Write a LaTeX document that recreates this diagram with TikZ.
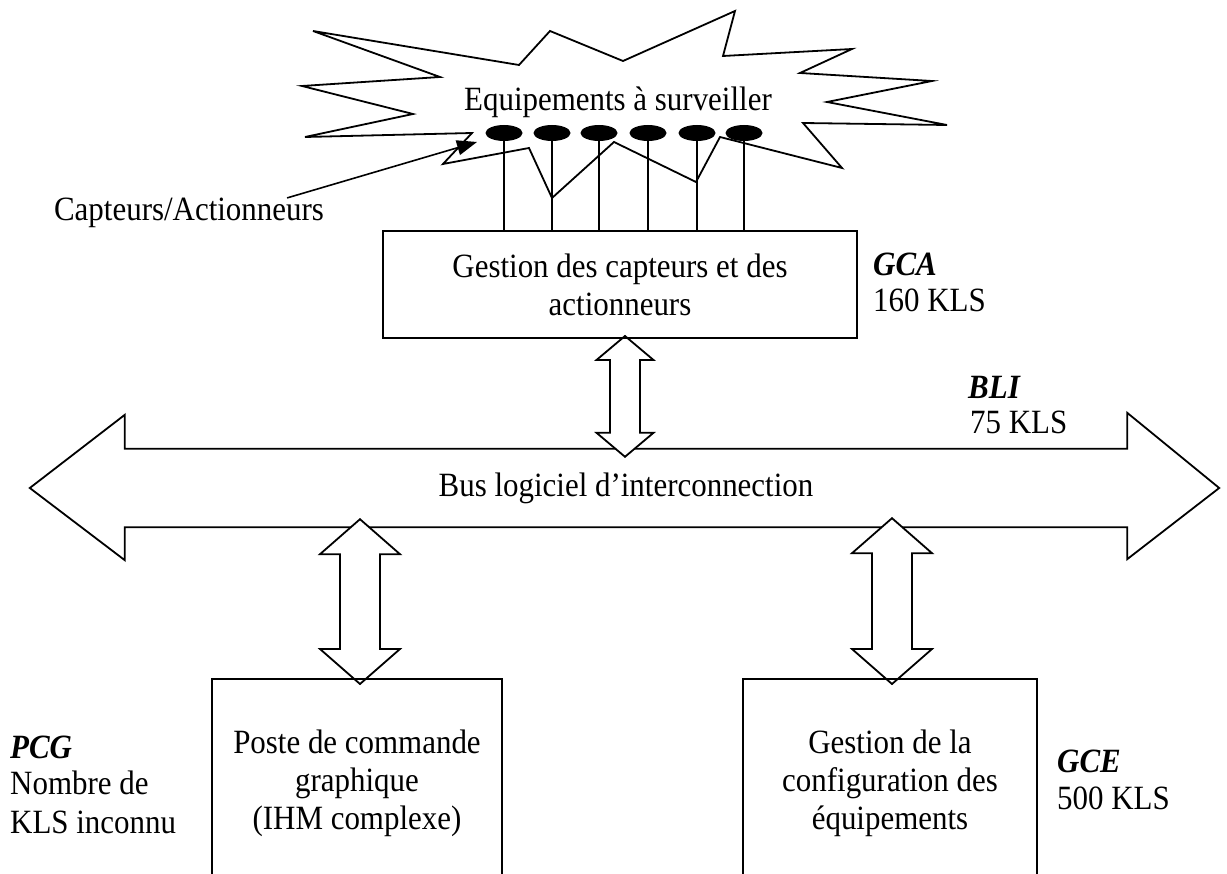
\documentclass[tikz,border=0pt]{standalone}
\usepackage{fontspec}
\setmainfont{Liberation Serif}[FakeStretch=0.91]
\usetikzlibrary{arrows.meta,calc,backgrounds,shapes.geometric}
\newcommand{\dblarrowv}[5]{%
  \path[blockarrow] let \p1=(#1), \p2=(#2) in
    (\x1,\y1) -- (\x1+#3,\y1-#5) -- (\x1+#4,\y1-#5) -- (\x1+#4,\y2+#5)
    -- (\x1+#3,\y2+#5) -- (\x1,\y2) -- (\x1-#3,\y2+#5) -- (\x1-#4,\y2+#5)
    -- (\x1-#4,\y1-#5) -- (\x1-#3,\y1-#5) -- cycle;}
\begin{document}
\begin{tikzpicture}[x=1pt,y=-1pt,
  every node/.style={font=\fontsize{34}{38}\selectfont, inner sep=0pt},
  outline/.style={draw=black, line width=1.8pt, line join=miter},
  box/.style={draw=black, line width=2pt, align=center},
  lab/.style={anchor=west},
  tag/.style={anchor=west, font=\fontsize{34}{38}\selectfont\bfseries\itshape},
  blockarrow/.style={draw=black, fill=white, line width=1.8pt, line join=miter},
  dot/.style={ellipse, fill=black, minimum width=37pt, minimum height=16pt},
  wire/.style={draw=black, line width=1.6pt}]
\useasboundingbox (0,0) rectangle (1227,874);

% star (equipment to monitor)
\draw[outline] (313,31) -- (519,65) -- (550,31) -- (623,61) -- (735,11) -- (723,56)
  -- (852,49) -- (800,73) -- (932,81) -- (827,102) -- (947,125) -- (803,123)
  -- (842,168) -- (720,137) -- (696,182) -- (614,142) -- (552,198) -- (529,148)
  -- (443,164) -- (472,133) -- (305,137) -- (413,114) -- (302,86) -- (440,77) -- cycle;
\node (equip) at (618,102) {Equipements à surveiller};

% sensors / actuators
\foreach \i/\x in {1/504,2/552,3/599,4/648,5/697,6/744}
  \node[dot] (d\i) at (\x,133) {};

% boxes
\node[box, minimum width=474pt, minimum height=107pt] (gca) at (620,284.5)
  {Gestion des capteurs et des\\actionneurs};
\node[box, minimum width=290pt, minimum height=208pt] (pcg) at (357,783)
  {Poste de commande\\graphique\\(IHM complexe)};
\node[box, minimum width=294pt, minimum height=208pt] (gce) at (890,783)
  {Gestion de la\\configuration des\\équipements};

\foreach \i in {1,...,6}
  \draw[wire] (d\i.center) -- (d\i.center |- gca.north);

% bus
\node[minimum width=1002pt, minimum height=78pt] (bus) at (626,488)
  {Bus logiciel d’interconnection};

% labels
\node[tag] (gcat) at (873,264) {GCA};
\node[lab] (gcak) at (873,300) {160 KLS};
\node[tag] (blit) at (968,387) {BLI};
\node[lab] (blik) at (970,422) {75 KLS};
\node[tag] (pcgt) at (10,747) {PCG};
\node[lab] (pcgn) at (10,783) {Nombre de};
\node[lab] (pcgk) at (10,822) {KLS inconnu};
\node[tag] (gcet) at (1057,761) {GCE};
\node[lab] (gcek) at (1057,798) {500 KLS};

\node (capt) at (189,213) {Capteurs/Actionneurs};
\coordinate (captip) at (477,142);
\draw[wire, -{Triangle[length=20pt,width=15pt]}] ([xshift=-37pt]capt.north east) -- (captip);

\begin{pgfonlayer}{background}
  \fill[white] (0,0) rectangle (1227,874);
  \draw[blockarrow] (bus.north west) -- ++(0,-34) -- ($(bus.west)+(-95,0)$)
    -- ($(bus.south west)+(0,33)$) -- (bus.south west) -- (bus.south east)
    -- ++(0,32) -- ($(bus.east)+(92,0)$) -- ($(bus.north east)+(0,-36)$)
    -- (bus.north east) -- cycle;
  \dblarrowv{$(gca.south)+(5,-3)$}{$(bus.north)+(-1,8)$}{28.5pt}{15pt}{24pt}
  \dblarrowv{$(pcg.north |- bus.south)+(3,-8)$}{$(pcg.north)+(3,6)$}{40pt}{20pt}{35pt}
  \dblarrowv{$(gce.north |- bus.south)+(2,-9)$}{$(gce.north)+(2,6)$}{40pt}{20pt}{35pt}
\end{pgfonlayer}
\end{tikzpicture}
\end{document}
